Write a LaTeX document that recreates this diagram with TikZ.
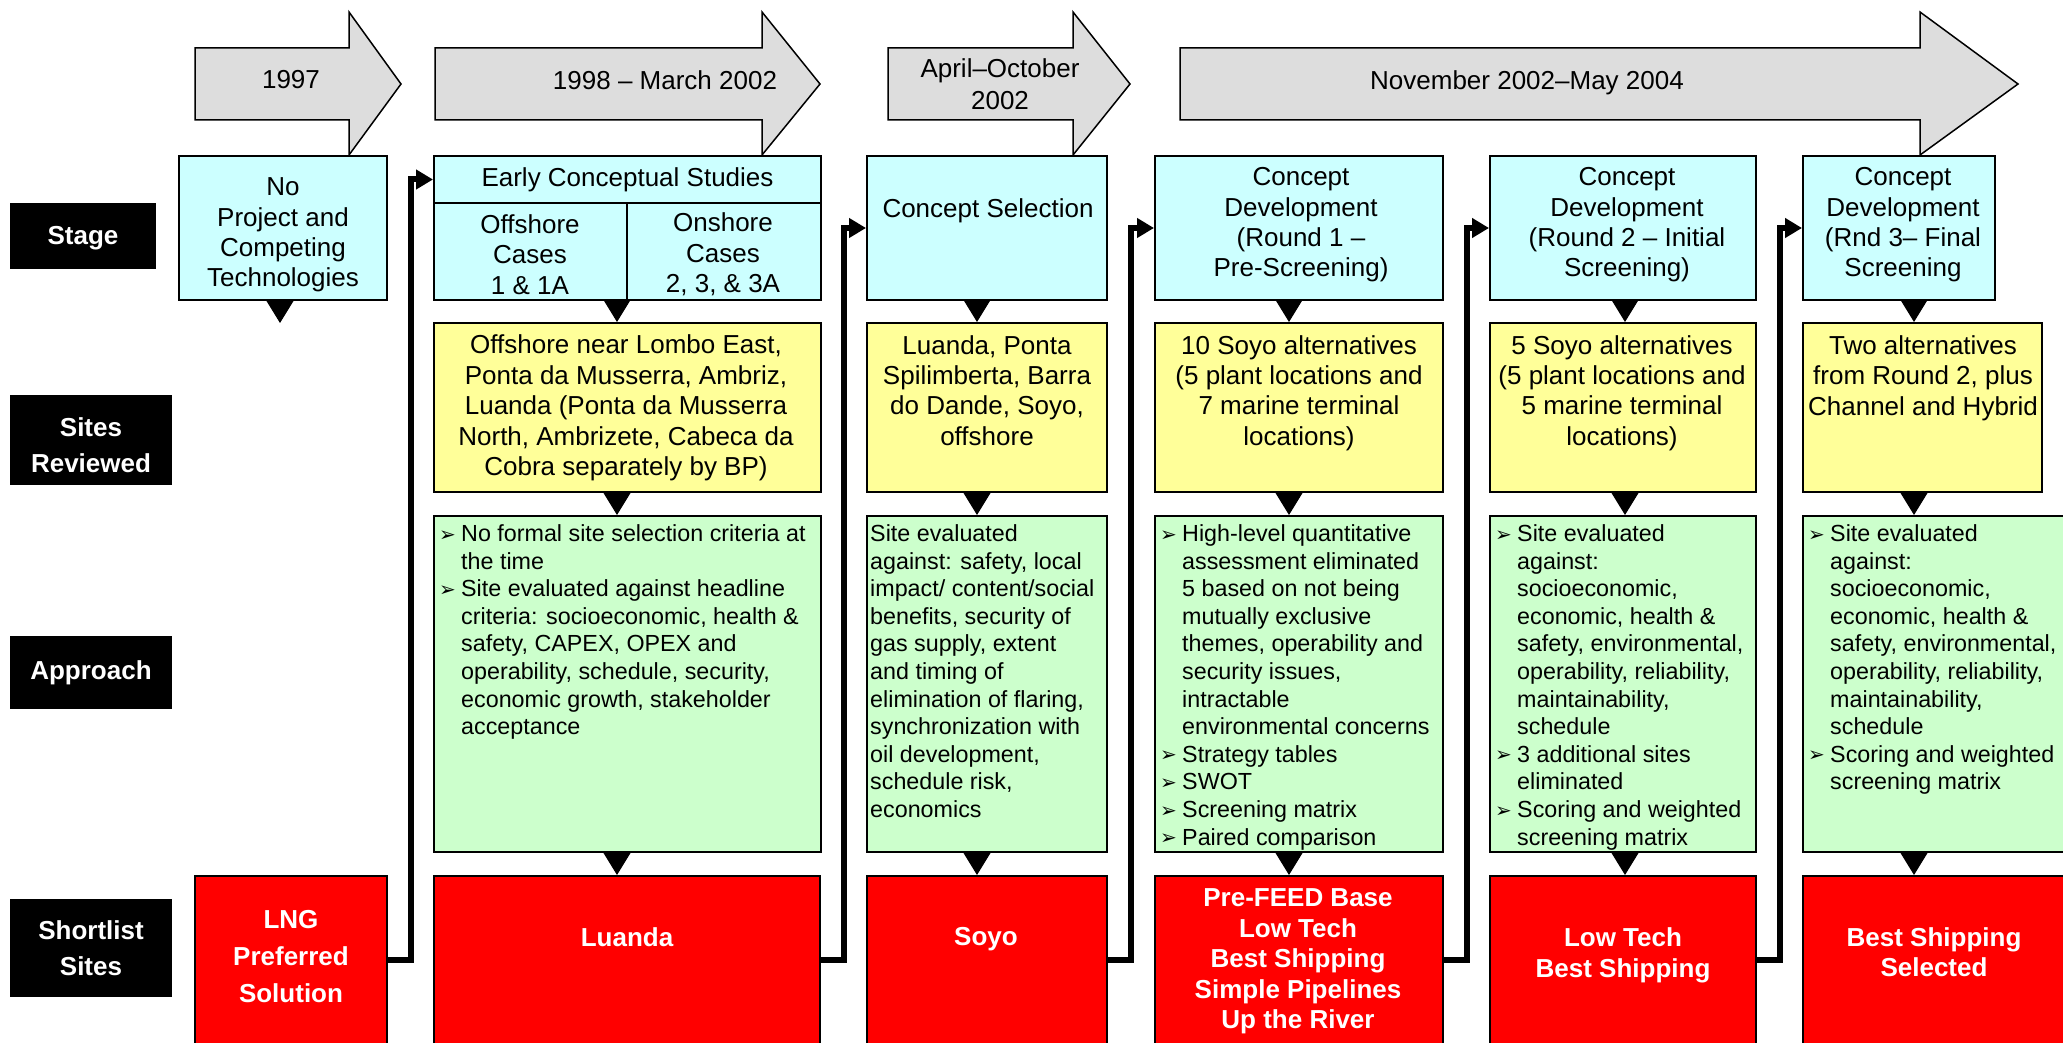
\documentclass[tikz,border=0pt]{standalone}
\usepackage{fontspec}
\setmainfont{Liberation Sans}
\newfontfamily\dingfont{DejaVu Sans}
\usetikzlibrary{arrows.meta,calc}

\definecolor{stagecol}{HTML}{CCFFFF}
\definecolor{sitecol}{HTML}{FFFF99}
\definecolor{apprcol}{HTML}{CCFFCC}
\definecolor{shortcol}{HTML}{FF0000}
\definecolor{timecol}{HTML}{DDDDDD}

\newcommand{\bigtxt}{\fontsize{26}{30.4}\selectfont}
\newcommand{\smalltxt}{\fontsize{23.3}{27.6}\selectfont}
\newcommand{\bul}{\makebox[22pt][l]{\dingfont\fontsize{20}{20}\selectfont\raisebox{0.5pt}{➢}}}
\newcommand{\timearrow}[3]{\draw[tlarrow] (#1,48) -- (#2,48) -- (#2,12) -- (#3,84) -- (#2,155) -- (#2,120) -- (#1,120) -- cycle;}

\tikzset{
  box/.style={draw, line width=2pt, inner sep=0pt},
  stagebox/.style={box, fill=stagecol, minimum height=144pt},
  sitebox/.style={box, fill=sitecol, minimum height=169pt},
  apprbox/.style={box, fill=apprcol, minimum height=336pt},
  shortbox/.style={box, fill=shortcol, minimum height=168pt},
  rowlabel/.style={fill=black, text=white, align=center, inner sep=0pt, minimum width=162pt, font=\bfseries\fontsize{26}{36}\selectfont},
  labeltxt/.style={text=white, align=center, inner sep=0pt, font=\bfseries\fontsize{26}{36}\selectfont},
  txt/.style={align=center, inner sep=0pt, font=\bigtxt},
  wtxt/.style={txt, text=white, font=\bfseries\bigtxt},
  gtxt/.style={inner sep=0pt, anchor=north west, font=\smalltxt},
  tlarrow/.style={draw, line width=1.5pt, fill=timecol, line join=miter},
  link/.style={line width=6pt, -{Triangle[length=17pt,width=19pt]}},
  drop/.style={line width=1pt, -{Triangle[length=23pt,width=28pt]}},
}

\begin{document}
\begin{tikzpicture}[x=1pt,y=-1pt]
\useasboundingbox (0,0) rectangle (2063,1043);
\clip (0,0) rectangle (2063,1043);

% time line
\timearrow{195}{349}{401}
\timearrow{435}{762}{820}
\timearrow{888}{1073}{1130}
\timearrow{1180}{1920}{2018}
\node[txt] (t1) at (291,80) {1997};
\node[txt] (t2) at (665,80) {1998 – March 2002};
\node[txt, font=\fontsize{26}{32}\selectfont] (t3) at (1000,84) {April–October\\2002};
\node[txt] (t4) at (1527,82.5) {November 2002–May 2004};

% row labels
\node[rowlabel, minimum width=146pt, minimum height=66pt] (lstage) at (83,236) {};
\node[labeltxt] (lstaget) at (83,238.5) {Stage};
\node[rowlabel, minimum height=90pt] (lsites) at (91,440) {};
\node[labeltxt] (lsitest) at (91,445.5) {Sites\\Reviewed};
\node[rowlabel, minimum height=73pt] (lappr) at (91,672.5) {Approach};
\node[rowlabel, minimum height=98pt] (lshort) at (91,948) {Shortlist\\Sites};

% stage
\node[stagebox, minimum width=208pt] (s1) at (283,228) {};
\node[stagebox, minimum width=387pt, minimum height=47pt, font=\bigtxt] (s2) at (627.5,179.5) {Early Conceptual Studies};
\node[stagebox, minimum width=193pt, minimum height=97pt] (s2l) at (530.5,251.5) {};
\node[stagebox, minimum width=194pt, minimum height=97pt] (s2r) at (724,251.5) {};
\node[stagebox, minimum width=240pt] (s3) at (987,228) {};
\node[stagebox, minimum width=288pt] (s4) at (1299,228) {};
\node[stagebox, minimum width=266pt] (s5) at (1623,228) {};
\node[stagebox, minimum width=192pt] (s6) at (1899,228) {};
\node[txt] (s1t) at (283,235) {No\\Project and\\Competing\\Technologies};
\node[txt] (s2lt) at (530,254.5) {Offshore\\Cases\\1 \& 1A};
\node[txt] (s2rt) at (723,254.5) {Onshore\\Cases\\2, 3, \& 3A};
\node[txt] (s3t) at (988,210.5) {Concept Selection};
\node[txt] (s4t) at (1301,225) {Concept\\Development\\(Round 1 –\\Pre-Screening)};
\node[txt] (s5t) at (1627,225) {Concept\\Development\\(Round 2 – Initial\\Screening)};
\node[txt] (s6t) at (1903,225) {Concept\\Development\\(Rnd 3– Final\\Screening};

% sites reviewed
\node[sitebox, minimum width=387pt] (y2) at (627.5,407.5) {};
\node[sitebox, minimum width=240pt] (y3) at (987,407.5) {};
\node[sitebox, minimum width=288pt] (y4) at (1299,407.5) {};
\node[sitebox, minimum width=266pt] (y5) at (1623,407.5) {};
\node[sitebox, minimum width=239pt] (y6) at (1922.5,407.5) {};
\node[txt] (y2t) at (626,408) {Offshore near Lombo East,\\Ponta da Musserra, Ambriz,\\Luanda (Ponta da Musserra\\North, Ambrizete, Cabeca da\\Cobra separately by BP)};
\node[txt] (y3t) at (987,390.5) {Luanda, Ponta\\Spilimberta, Barra\\do Dande, Soyo,\\offshore};
\node[txt] (y4t) at (1299,393) {10 Soyo alternatives\\(5 plant locations and\\7 marine terminal\\locations)};
\node[txt] (y5t) at (1622,393) {5 Soyo alternatives\\(5 plant locations and\\5 marine terminal\\locations)};
\node[txt] (y6t) at (1923,378) {Two alternatives\\from Round 2, plus\\Channel and Hybrid};

% approach
\node[apprbox, minimum width=387pt] (g2) at (627.5,684) {};
\node[apprbox, minimum width=240pt] (g3) at (987,684) {};
\node[apprbox, minimum width=288pt] (g4) at (1299,684) {};
\node[apprbox, minimum width=266pt] (g5) at (1623,684) {};
\node[apprbox, minimum width=280pt] (g6) at (1943,684) {};
\node[gtxt] (g2t) at ([xshift=6pt,yshift=-7pt]g2.north west) {\begin{tabular}{@{}l@{}l@{}}
\bul & No formal site selection criteria at\\
 & the time\\
\bul & Site evaluated against headline\\
 & criteria: socioeconomic, health \&\\
 & safety, CAPEX, OPEX and\\
 & operability, schedule, security,\\
 & economic growth, stakeholder\\
 & acceptance
\end{tabular}};
\node[gtxt] (g3t) at ([xshift=4pt,yshift=-7pt]g3.north west) {\begin{tabular}{@{}l@{}}
Site evaluated\\
against: safety, local\\
impact/ content/social\\
benefits, security of\\
gas supply, extent\\
and timing of\\
elimination of flaring,\\
synchronization with\\
oil development,\\
schedule risk,\\
economics
\end{tabular}};
\node[gtxt] (g4t) at ([xshift=6pt,yshift=-7pt]g4.north west) {\begin{tabular}{@{}l@{}l@{}}
\bul & High-level quantitative\\
 & assessment eliminated\\
 & 5 based on not being\\
 & mutually exclusive\\
 & themes, operability and\\
 & security issues,\\
 & intractable\\
 & environmental concerns\\
\bul & Strategy tables\\
\bul & SWOT\\
\bul & Screening matrix\\
\bul & Paired comparison
\end{tabular}};
\node[gtxt] (g5t) at ([xshift=6pt,yshift=-7pt]g5.north west) {\begin{tabular}{@{}l@{}l@{}}
\bul & Site evaluated\\
 & against:\\
 & socioeconomic,\\
 & economic, health \&\\
 & safety, environmental,\\
 & operability, reliability,\\
 & maintainability,\\
 & schedule\\
\bul & 3 additional sites\\
 & eliminated\\
\bul & Scoring and weighted\\
 & screening matrix
\end{tabular}};
\node[gtxt] (g6t) at ([xshift=6pt,yshift=-7pt]g6.north west) {\begin{tabular}{@{}l@{}l@{}}
\bul & Site evaluated\\
 & against:\\
 & socioeconomic,\\
 & economic, health \&\\
 & safety, environmental,\\
 & operability, reliability,\\
 & maintainability,\\
 & schedule\\
\bul & Scoring and weighted\\
 & screening matrix
\end{tabular}};

% shortlist sites
\node[shortbox, minimum width=192pt] (r1) at (291,960) {};
\node[shortbox, minimum width=386pt] (r2) at (627,960) {};
\node[shortbox, minimum width=240pt] (r3) at (987,960) {};
\node[shortbox, minimum width=288pt] (r4) at (1299,960) {};
\node[shortbox, minimum width=266pt] (r5) at (1623,960) {};
\node[shortbox, minimum width=280pt] (r6) at (1943,960) {};
\node[wtxt, font=\bfseries\fontsize{26}{37}\selectfont] (r1t) at (291,957) {LNG\\Preferred\\Solution};
\node[wtxt] (r2t) at (627,937.5) {Luanda};
\node[wtxt] (r3t) at (986,939.5) {Soyo};
\node[wtxt] (r4t) at (1298,961.5) {Pre-FEED Base\\Low Tech\\Best Shipping\\Simple Pipelines\\Up the River};
\node[wtxt] (r5t) at (1623,955.5) {Low Tech\\Best Shipping};
\node[wtxt] (r6t) at (1934,952) {Best Shipping\\Selected};

% drops inside each column
\coordinate (d1) at (280,323);
\coordinate (cx2) at (617,0);
\coordinate (cx3) at (977,0);
\coordinate (cx4) at (1289,0);
\coordinate (cx5) at (1625,0);
\coordinate (cx6) at (1914,0);
\draw[drop] (d1 |- s1.south) -- (d1);
\draw[drop] (s2l.south -| cx2) -- (y2.north -| cx2);
\draw[drop] (y2.south -| cx2) -- (g2.north -| cx2);
\draw[drop] (g2.south -| cx2) -- (r2.north -| cx2);
\draw[drop] (s3.south -| cx3) -- (y3.north -| cx3);
\draw[drop] (y3.south -| cx3) -- (g3.north -| cx3);
\draw[drop] (g3.south -| cx3) -- (r3.north -| cx3);
\draw[drop] (s4.south -| cx4) -- (y4.north -| cx4);
\draw[drop] (y4.south -| cx4) -- (g4.north -| cx4);
\draw[drop] (g4.south -| cx4) -- (r4.north -| cx4);
\draw[drop] (s5.south -| cx5) -- (y5.north -| cx5);
\draw[drop] (y5.south -| cx5) -- (g5.north -| cx5);
\draw[drop] (g5.south -| cx5) -- (r5.north -| cx5);
\draw[drop] (s6.south -| cx6) -- (y6.north -| cx6);
\draw[drop] (y6.south -| cx6) -- (g6.north -| cx6);
\draw[drop] (g6.south -| cx6) -- (r6.north -| cx6);

% shortlist feeds the next stage
\draw[link] (r1.east) -| ($(r1.east)!.5!(s2.west)$) |- (s2.west);
\draw[link] (r2.east) -| ($(r2.east)!.5!(s3.west)$) |- (s3.west);
\draw[link] (r3.east) -| ($(r3.east)!.5!(s4.west)$) |- (s4.west);
\draw[link] (r4.east) -| ($(r4.east)!.5!(s5.west)$) |- (s5.west);
\draw[link] (r5.east) -| ($(r5.east)!.5!(s6.west)$) |- (s6.west);
\end{tikzpicture}
\end{document}
